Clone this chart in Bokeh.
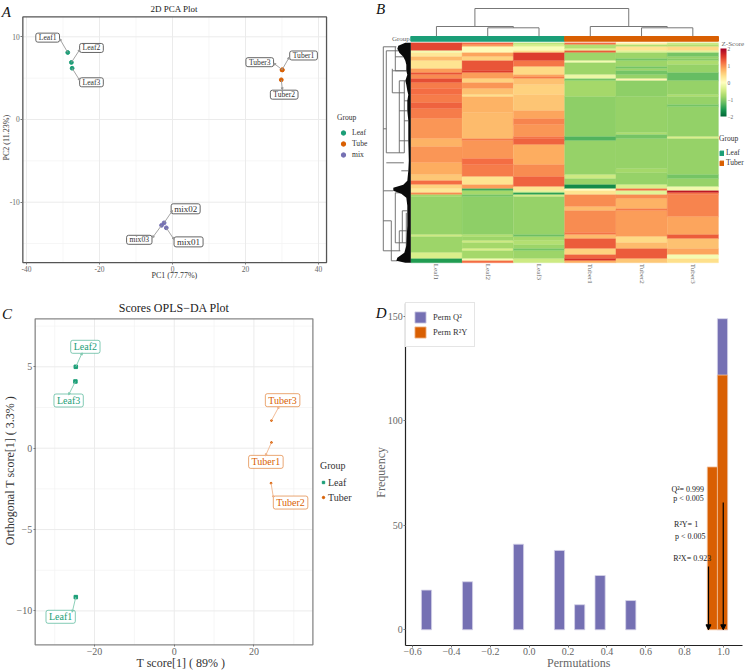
from math import pi
from bokeh.plotting import figure
from bokeh.layouts import column, row
from bokeh.embed import file_html
from bokeh.resources import INLINE
from bokeh.core.properties import value
from bokeh.models import (Range1d, FixedTicker, Legend, LegendItem, ColumnDataSource, Arrow, NormalHead,
                          LinearColorMapper, ColorBar, Label)

SERIF = "Liberation Serif"
GREEN, ORANGE, PURPLE = "#1B9E77", "#D95F02", "#7570B3"
TICK = "#666666"

# ---------------- A: PCA ----------------
pca_names = ["Leaf1", "Leaf2", "Leaf3", "Tuber1", "Tuber2", "Tuber3", "mix01", "mix02", "mix03"]
pca_group = ["Leaf", "Leaf", "Leaf", "Tube", "Tube", "Tube", "mix", "mix", "mix"]
pca_pc1 = [-28.7, -27.7, -27.5, 30.0, 29.8, 30.1, -1.7, -2.3, -3.0]
pca_pc2 = [8.1, 6.9, 6.2, 6.0, 4.8, 6.0, -13.1, -12.5, -12.8]
pca_lab_x = [-34.2, -22.2, -22.2, 35.9, 30.6, 23.9, 4.4, 3.6, -9.1]
pca_lab_y = [9.9, 8.65, 4.5, 7.74, 3.0, 6.93, -14.8, -10.8, -14.55]
pca_tip_x = [-30.9, -25.4, -25.4, 32.0, 30.1, 27.75, 0.4, 0.0, -5.5]
pca_tip_y = [9.76, 8.46, 4.72, 7.54, 3.6, 6.8, -14.5, -11.0, -14.3]
pca_lab_size = ["7.6px"] * 6 + ["9px", "9px", "7.6px"]
pca_x_ticks = [-40, -20, 0, 20, 40]
pca_x_minor = [-30, -10, 10, 30]
pca_y_ticks = [-10, 0, 10]
pca_y_minor = [-15, -5, 5]

# ---------------- B: heatmap, runs of (rows, z-score) per sample ----------------
heat_samples = ["Leaf1", "Leaf2", "Leaf3", "Tuber1", "Tuber2", "Tuber3"]
leaf1_runs = [(4,1.45),(1,-.1),(2,.3),(2,.7),(4,.35),(2,.9),(1,1.35),(2,1.0),(2,1.4),(3,1.1),(3,1.2),(4,1.1),(3,1.25),(5,1.1),
              (10,.95),(4,.75),(8,.95),(6,.8),(3,.6),(2,1.2),(2,.5),(2,.3),(1,1.0),(1,-.8),(19,-.9),(1,-.5),(8,-.85),(3,-.4),(2,-1.55)]
leaf2_runs = [(1,1.2),(1,.9),(3,.05),(2,.85),(2,.5),(5,1.35),(1,1.5),(3,.9),(2,.5),(3,.95),(3,.65),(1,.4),(8,.75),(13,.7),(1,1.1),
              (9,.95),(3,1.2),(6,1.1),(4,.35),(2,.9),(1,-1.4),(2,-.8),(1,-1.1),(19,-.95),(1,-.7),(2,-.85),(1,-.5),(3,-.8),(1,-.4),(4,-.8),(1,-.1),(1,1.2)]
leaf3_runs = [(1,-.6),(1,-.4),(2,-.05),(1,.4),(4,1.5),(3,1.15),(4,.45),(1,.85),(1,1.1),(3,.65),(5,.5),(8,.62),(4,.85),(3,1.05),(6,.95),
              (1,1.15),(3,1.25),(10,.8),(6,1.0),(5,1.25),(2,.35),(1,-.3),(1,-1.5),(1,-.45),(19,-.9),(1,-1.15),(2,-.8),(2,-.7),(2,-.85),(1,-1.1),(4,-.85),(2,-.5)]
tuber1_runs = [(1,1.2),(2,-.7),(1,-.3),(1,1.3),(4,-.85),(1,-.1),(6,-.85),(2,-.2),(1,-1.1),(8,-.8),(20,-.95),(2,-1.3),(17,-.9),(2,-.5),(3,-.88),
               (2,-1.7),(1,0),(2,.35),(6,1.0),(2,.7),(11,1.0),(1,1.15),(2,.7),(5,1.3),(3,.5),(2,1.25),(1,1.6),(1,.8)]
tuber2_runs = [(1,.2),(1,-.7),(2,.35),(1,-.3),(3,-.85),(1,-1.1),(3,-.85),(1,-1.1),(1,-.85),(2,-1.1),(2,-.9),(1,.1),(8,-.95),(18,-.9),(1,-.75),(2,-1.1),
               (15,-.9),(2,-.8),(6,-.9),(2,-.4),(1,1.2),(2,-.3),(2,1.0),(5,.75),(1,1.1),(13,.9),(3,.45),(3,.7),(5,1.3),(2,.6)]
tuber3_runs = [(1,-.5),(1,-.7),(2,.45),(1,-.3),(2,-1.1),(1,-.9),(1,-1.0),(2,-.75),(4,-.9),(4,-1.2),(7,-.9),(1,-.75),(4,-.9),(1,-1.1),(15,-.92),(1,-.4),
               (18,-.9),(2,-1.1),(4,-.9),(2,-.15),(1,1.8),(1,1.15),(11,1.05),(9,.85),(2,1.3),(5,.65),(3,.85),(2,-.1),(2,.4)]
heat_runs = [leaf1_runs, leaf2_runs, leaf3_runs, tuber1_runs, tuber2_runs, tuber3_runs]
heat_ticks = [-2, -1, 0, 1, 2]
heat_stops = ["#006837", "#1a9850", "#66bd63", "#a6d96a", "#d9ef8b", "#ffffbf", "#fee08b", "#fdae61", "#f46d43", "#d73027", "#a50026"]

# column dendrogram: connector x, from level, to level; bars: level, x from, x to
coltree_v_x = [0.5, 1.5, 2.5, 2.0, 1.25, 3.5, 4.5, 5.5, 5.0, 4.25]
coltree_v_a = [-3.3, -3.3, -3.3, -7.5, -8.15, -3.3, -3.3, -3.3, -7.5, -8.15]
coltree_v_b = [-8.15, -7.5, -7.5, -8.15, -17.15, -8.15, -7.5, -7.5, -8.15, -17.15]
coltree_h_y = [-7.5, -8.15, -7.5, -8.15, -17.15]
coltree_h_a = [1.5, 0.5, 4.5, 3.5, 1.25]
coltree_h_b = [2.5, 2.0, 5.5, 5.0, 4.25]

# row dendrogram: height in tree units, rows
rowtree_v_h = [27.5, 27.5, 24.5, 18.5, 15.5, 11.5, 6.5, 19.5, 15.5, 8.5, 4.5, 11.5]
rowtree_v_a = [2, 74, 4, 13, 2, 19, 19, 89, 75, 84, 85, 94]
rowtree_v_b = [74, 104, 55, 25, 14, 55, 55, 109, 100, 100, 104, 104]
rowtree_h_r = [2, 4, 7, 14, 19, 25, 43, 55, 74, 75, 89, 100, 104, 109, 84, 94, 39, 49, 29, 64, 14, 34, 60]
rowtree_h_a = [27.5, 24.5, 15.5, 18.5, 11.5, 18.5, 27.5, 24.5, 27.5, 15.5, 27.5, 15.5, 27.5, 19.5, 8.5, 11.5, 6.5, 11.5, 6.5, 9.5, 15.5, 11.5, 24.5]
rowtree_h_b = [14.5, 12.5, 5.5, 4.5, 5.5, 6.5, 24.5, 6.5, 17.5, 4.5, 19.5, 4.5, 10.5, 13.5, 3.5, 3.5, 2.5, 2.5, 2.5, 2.5, 4.5, 3.5, 7.0]
rowband_r = [0, 1.5, 3, 5, 7, 9, 11, 14, 16, 19, 21, 24, 26, 29, 34, 39, 49, 59, 64, 69, 71, 72.5, 74, 75.5, 77.5, 81.5, 91.5, 101.5, 105, 107.5, 109, 110]
rowband_h = [5.5, 12.5, 13.5, 11.5, 7.5, 5.5, 4.5, 4.5, 3.5, 5.5, 4.5, 3.5, 2.5, 3.5, 3.5, 2.5, 2.5, 2.0, 2.5, 3.5, 7.5, 17.5, 17.5, 9.5, 4.5, 3.5, 3.5, 4.5, 6.5, 13.5, 14.5, 5.5]

# ---------------- C: OPLS-DA ----------------
opls_names = ["Leaf1", "Leaf2", "Leaf3", "Tuber1", "Tuber2", "Tuber3"]
opls_t = [-24.7, -24.7, -24.8, 24.4, 24.3, 24.4]
opls_o = [-9.15, 5.0, 4.1, 0.35, -2.15, 1.7]
opls_lab_x = [-28.5, -22.3, -26.5, 23.0, 29.2, 27.2]
opls_lab_y = [-10.36, 6.23, 2.93, -0.84, -3.34, 2.95]
opls_tip_x = [-25.6, -23.1, -26.5, 22.9, 24.9, 26.3]
opls_tip_y = [-10.08, 5.86, 3.28, -0.47, -3.05, 2.56]
opls_x_ticks = [-20, 0, 20]
opls_x_minor = [-30, -10, 10, 30]
opls_y_ticks = [-10, -5, 0, 5]
opls_y_minor = [-7.5, -2.5, 2.5, 7.5]

# ---------------- D: permutation histogram ----------------
perm_q2_x = [-0.5286, -0.3175, -0.055, 0.156, 0.26, 0.365, 0.523, 0.995]
perm_q2_n = [19, 23, 41, 38, 12, 26, 14, 149]
perm_r2y_x = [0.943, 0.995]
perm_r2y_n = [78, 122]
perm_x_ticks = [-0.6, -0.4, -0.2, 0.0, 0.2, 0.4, 0.6, 0.8, 1.0]
perm_y_ticks = [0, 50, 100, 150]
perm_arrow_x = [0.923, 0.999]
perm_arrow_y = [30.3, 61]
perm_notes = ["Q²= 0.999", "p < 0.005", "R²Y= 1", "p < 0.005", "R²X= 0.923"]
perm_note_x = [0.732, 0.741, 0.746, 0.751, 0.741]
perm_note_y = [67.3, 62.7, 50.4, 44.8, 34.3]


def interp_palette(stops, n=256):
    rgb = [tuple(int(s[i:i + 2], 16) for i in (1, 3, 5)) for s in stops]
    out = []
    for k in range(n):
        t = k / (n - 1) * (len(rgb) - 1)
        i = min(int(t), len(rgb) - 2)
        f = t - i
        out.append("#%02x%02x%02x" % tuple(round(rgb[i][j] + (rgb[i + 1][j] - rgb[i][j]) * f) for j in range(3)))
    return out


def panel(width, height, xr, yr):
    p = figure(width=width, height=height, output_backend="svg", toolbar_location=None, title=None,
               x_range=Range1d(*xr), y_range=Range1d(*yr),
               min_border_left=0, min_border_right=0, min_border_top=0, min_border_bottom=0)
    p.grid.visible = False
    p.outline_line_color = None
    return p


def style_axes(p, tick_size, xmajor, ymajor, box):
    x0, x1, y0, y1 = box
    for ax, maj, loc, bnd in ((p.xaxis[0], xmajor, y0, (x0, x1)), (p.yaxis[0], ymajor, x0, (y0, y1))):
        ax.ticker = FixedTicker(ticks=maj)
        ax.fixed_location = loc
        ax.bounds = bnd
        ax.major_label_text_font = SERIF
        ax.major_label_text_font_size = tick_size
        ax.major_label_text_color = TICK
        ax.minor_tick_line_color = None
        ax.major_tick_line_color = "#777777"
        ax.major_tick_in = 0
        ax.major_tick_out = 2
        ax.axis_line_color = None
        ax.major_label_standoff = 1


def boxed_grid(p, xmaj, xmin, ymaj, ymin, box, edge, edge_w):
    x0, x1, y0, y1 = box
    p.segment(xmin, [y0] * len(xmin), xmin, [y1] * len(xmin), line_color="#f2f2f2", line_width=0.7)
    p.segment([x0] * len(ymin), ymin, [x1] * len(ymin), ymin, line_color="#f2f2f2", line_width=0.7)
    p.segment(xmaj, [y0] * len(xmaj), xmaj, [y1] * len(xmaj), line_color="#ebebeb", line_width=1)
    p.segment([x0] * len(ymaj), ymaj, [x1] * len(ymaj), ymaj, line_color="#ebebeb", line_width=1)
    p.quad(left=[x0], right=[x1], bottom=[y0], top=[y1], fill_color=None, line_color=edge, line_width=edge_w)


def note(p, text, x, y, size, angle=0.0, color="#333333"):
    p.add_layout(Label(x=x, y=y, text=text, text_font=SERIF, text_font_size=size, text_color=color,
                       text_align="center", text_baseline="middle", angle=angle))


def plain_legend(p, items, loc, title, font, spacing, gw, gh, standoff):
    lg = Legend(items=items, location=loc, title=title, orientation="vertical")
    lg.border_line_color = None
    lg.background_fill_color = None
    lg.background_fill_alpha = 0
    lg.padding = 0
    lg.margin = 0
    lg.spacing = spacing
    lg.glyph_width = gw
    lg.glyph_height = gh
    lg.label_standoff = standoff
    lg.label_height = gh
    lg.label_text_font = SERIF
    lg.label_text_font_size = font
    lg.label_text_color = "#333333"
    lg.label_text_baseline = "middle"
    lg.title_text_font = SERIF
    lg.title_text_font_size = font
    lg.title_text_font_style = "normal"
    lg.title_text_color = "#333333"
    p.add_layout(lg, "center")
    return lg


def letter(p, ch, x, y):
    p.add_layout(Label(x=x, y=y, text=ch, text_font=SERIF, text_font_style="italic", text_font_size="15px",
                       text_color="#111111", text_baseline="alphabetic"))


# ---------- panel A ----------
a_box = (-41, 42.2, -17.3, 12.4)
a = panel(372, 290, (-47.12, 54.79), (-20.68, 14.39))
boxed_grid(a, pca_x_ticks, pca_x_minor, pca_y_ticks, pca_y_minor, a_box, "#555555", 1.3)
style_axes(a, "7.5px", pca_x_ticks, pca_y_ticks, a_box)
a.xaxis[0].major_label_overrides = {t: str(t) for t in pca_x_ticks}
a.yaxis[0].major_label_overrides = {t: str(t) for t in pca_y_ticks}
note(a, "2D PCA Plot", 0.5, 13.4, "9px", color="#222222")
note(a, "PC1 (77.77%)", 0.5, -18.9, "8px")
note(a, "PC2 (11.23%)", -45.6, -2.2, "8px", angle=pi / 2)
a.add_layout(Arrow(end=NormalHead(size=2, fill_color="#999999", line_color="#999999"),
                   source=ColumnDataSource(dict(x0=pca_pc1, y0=pca_pc2, x1=pca_tip_x, y1=pca_tip_y)),
                   x_start="x0", y_start="y0", x_end="x1", y_end="y1", line_color="#999999", line_width=0.9))
a_items = []
for g, col in (("Leaf", GREEN), ("Tube", ORANGE), ("mix", PURPLE)):
    idx = [i for i, v in enumerate(pca_group) if v == g]
    r = a.scatter([pca_pc1[i] for i in idx], [pca_pc2[i] for i in idx], size=3.8, color=col)
    a_items.append(LegendItem(label=g, renderers=[r]))
a.text(x="x", y="y", text="t", source=ColumnDataSource(dict(x=pca_lab_x, y=pca_lab_y, t=pca_names, s=pca_lab_size)),
       text_font=value(SERIF), text_font_size="s", text_color="#333333", text_align="center", text_baseline="middle",
       background_fill_color="white", border_line_color="#555555", border_line_width=0.9, padding=(3, 0), border_radius=2)
plain_legend(a, a_items, (337, 130), "Group", "7.6px", 0, 12, 11, 3)
letter(a, "A", -46.8, 13.0)

# ---------- panel B ----------
b = panel(373, 290, (-0.747, 6.527), (123.85, -21.15))
b.yaxis.visible = False
mapper = LinearColorMapper(palette=interp_palette(heat_stops), low=-2, high=2)
cells = dict(l=[], r=[], t=[], b=[], z=[])
for ci, runs in enumerate(heat_runs):
    top = 0
    for n, z in runs:
        cells["l"].append(ci); cells["r"].append(ci + 1)
        cells["t"].append(top); cells["b"].append(top + n); cells["z"].append(z)
        top += n
cmap = {"field": "z", "transform": mapper}
b.quad(left="l", right="r", top="t", bottom="b", source=ColumnDataSource(cells),
       fill_color=cmap, line_color=cmap, line_width=0.3)
ann_leaf = b.quad(left=[0], right=[3], top=[-3.15], bottom=[-0.8], color=GREEN)
ann_tuber = b.quad(left=[3], right=[6], top=[-3.15], bottom=[-0.8], color=ORANGE)
b.segment(coltree_v_x, coltree_v_a, coltree_v_x, coltree_v_b, line_color="#777777", line_width=1)
b.segment(coltree_h_a, coltree_h_y, coltree_h_b, coltree_h_y, line_color="#777777", line_width=1)
tree_scale = 1 / 51.28
b.segment([-h * tree_scale for h in rowtree_v_h], rowtree_v_a, [-h * tree_scale for h in rowtree_v_h], rowtree_v_b,
          line_color="#666666", line_width=0.9)
b.segment([-h * tree_scale for h in rowtree_h_a], rowtree_h_r, [-h * tree_scale for h in rowtree_h_b], rowtree_h_r,
          line_color="#666666", line_width=0.9)
b.harea(x1=[-h * tree_scale for h in rowband_h], x2=[0] * len(rowband_h), y=rowband_r, fill_color="#0a0a0a")
b.text([-0.02], [-2.0], ["Group"], text_font=value(SERIF), text_font_size=value("7px"), text_color=TICK,
       text_align="right", text_baseline="middle")
b.text([6.06], [0.35], ["Z-Score"], text_font=value(SERIF), text_font_size=value("7px"), text_color=TICK,
       text_align="left", text_baseline="middle")
ax = b.xaxis[0]
ax.ticker = FixedTicker(ticks=[i + 0.5 for i in range(6)])
ax.fixed_location = 110
ax.major_label_overrides = {i + 0.5: s for i, s in enumerate(heat_samples)}
ax.major_label_orientation = "vertical"
ax.major_label_text_font = SERIF
ax.major_label_text_font_size = "7px"
ax.major_label_text_color = TICK
ax.major_label_standoff = 1
ax.axis_line_color = None
ax.major_tick_line_color = None
ax.major_tick_in = 0
ax.major_tick_out = 0
ax.minor_tick_line_color = None
cb = ColorBar(color_mapper=mapper, ticker=FixedTicker(ticks=heat_ticks), width=6, height=68,
              location=(348, 174),
              major_label_text_font=SERIF, major_label_text_font_size="5.5px", major_label_text_color=TICK,
              major_tick_line_color=None, minor_tick_line_color=None, bar_line_color=None,
              background_fill_color=None, padding=0, margin=0, label_standoff=1)
b.add_layout(cb, "center")
plain_legend(b, [LegendItem(label="Leaf", renderers=[ann_leaf]), LegendItem(label="Tuber", renderers=[ann_tuber])],
             (347, 123), "Group", "7.5px", 1, 5, 6, 2)
b.add_layout(Label(x=-0.68, y=-16.8, text="B", text_font=SERIF, text_font_style="italic", text_font_size="15px",
                   text_color="#111111", text_baseline="alphabetic"))

# ---------- panel C ----------
c_box = (-34.9, 34.8, -12.08, 7.95)
c = panel(372, 380, (-43.6, 49.76), (-13.66, 9.69))
boxed_grid(c, opls_x_ticks, opls_x_minor, opls_y_ticks, opls_y_minor, c_box, "#888888", 1.3)
style_axes(c, "10px", opls_x_ticks, opls_y_ticks, c_box)
c.xaxis[0].major_label_overrides = {t: str(t).replace("-", "\u2212") for t in opls_x_ticks}
c.yaxis[0].major_label_overrides = {t: str(t).replace("-", "\u2212") for t in opls_y_ticks}
note(c, "Scores OPLS\u2212DA Plot", 0, 8.63, "12px", color="#222222")
note(c, "T score[1] ( 89% )", 1.66, -13.17, "12px")
note(c, "Orthogonal T score[1] ( 3.3% )", -41.3, -1.37, "12px", angle=pi / 2)
opls_col = [GREEN] * 3 + [ORANGE] * 3
c.add_layout(Arrow(end=NormalHead(size=2, fill_color="#7fcab0", line_color="#7fcab0"),
                   source=ColumnDataSource(dict(x0=opls_t[:3], y0=opls_o[:3], x1=opls_tip_x[:3], y1=opls_tip_y[:3])),
                   x_start="x0", y_start="y0", x_end="x1", y_end="y1", line_color="#7fcab0", line_width=0.9))
c.add_layout(Arrow(end=NormalHead(size=2, fill_color="#f0b48a", line_color="#f0b48a"),
                   source=ColumnDataSource(dict(x0=opls_t[3:], y0=opls_o[3:], x1=opls_tip_x[3:], y1=opls_tip_y[3:])),
                   x_start="x0", y_start="y0", x_end="x1", y_end="y1", line_color="#f0b48a", line_width=0.9))
leaf_r = c.scatter(opls_t[:3], opls_o[:3], marker="square", size=3.5, color=GREEN)
tuber_r = c.scatter(opls_t[3:], opls_o[3:], marker="circle", size=1.8, color=ORANGE)
c.text(x="x", y="y", text="t", source=ColumnDataSource(dict(x=opls_lab_x, y=opls_lab_y, t=opls_names, c=opls_col)),
       text_font=value(SERIF), text_font_size=value("10px"), text_color="c", text_align="center", text_baseline="middle",
       background_fill_color="white", border_line_color="c", border_line_alpha=0.55, border_line_width=1,
       padding=(3, 1), border_radius=2)
plain_legend(c, [LegendItem(label="Leaf", renderers=[leaf_r]), LegendItem(label="Tuber", renderers=[tuber_r])],
             (320, 167), "Group", "10px", 3, 6, 12, 2)
letter(c, "C", -43.2, 8.26)

# ---------- panel D ----------
d_box = (-0.635, 1.10, -7.4, 156.4)
d = panel(373, 380, (-0.8065, 1.1135), (-19.5, 162.5))
style_axes(d, "10px", perm_x_ticks, perm_y_ticks, d_box)
d.xaxis[0].major_label_overrides = {t: f"{t:.1f}".replace("-", "\u2212") for t in perm_x_ticks}
for axis in (d.xaxis[0], d.yaxis[0]):
    axis.axis_line_color = "#222222"
    axis.axis_line_width = 1.2
note(d, "Permutations", 0.255, -15.8, "12px", color=TICK)
note(d, "Frequency", -0.764, 75.4, "12px", angle=pi / 2, color=TICK)
q2_r = d.vbar(x=perm_q2_x, top=perm_q2_n, bottom=0, width=0.0525, fill_color=PURPLE, line_color="#d5d3e8", line_width=0.8)
r2_r = d.vbar(x=perm_r2y_x, top=perm_r2y_n, bottom=0, width=0.0525, fill_color=ORANGE, line_color="#f3c3a0", line_width=0.8)
for xa, ya in zip(perm_arrow_x, perm_arrow_y):
    d.add_layout(Arrow(end=NormalHead(size=5, fill_color="black", line_color="black"), x_start=xa, y_start=ya, x_end=xa, y_end=0,
                       line_color="black", line_width=1.2))
d.text(perm_note_x, perm_note_y, perm_notes, text_font=value(SERIF), text_font_size=value("8px"), text_color="#222222",
       text_align="left", text_baseline="middle")
lg = plain_legend(d, [LegendItem(label="Perm Q²", renderers=[q2_r]), LegendItem(label="Perm R²Y", renderers=[r2_r])],
                  (33, 323), None, "8.5px", 1, 14, 14, 6)
lg.padding = 7
lg.border_line_color = "#cccccc"
lg.border_line_width = 1.5
lg.background_fill_color = "white"
lg.background_fill_alpha = 1
letter(d, "D", -0.79, 151.6)

page = column(row(a, b, spacing=0), row(c, d, spacing=0), spacing=0)
open("out.html", "w").write(file_html(page, INLINE))
